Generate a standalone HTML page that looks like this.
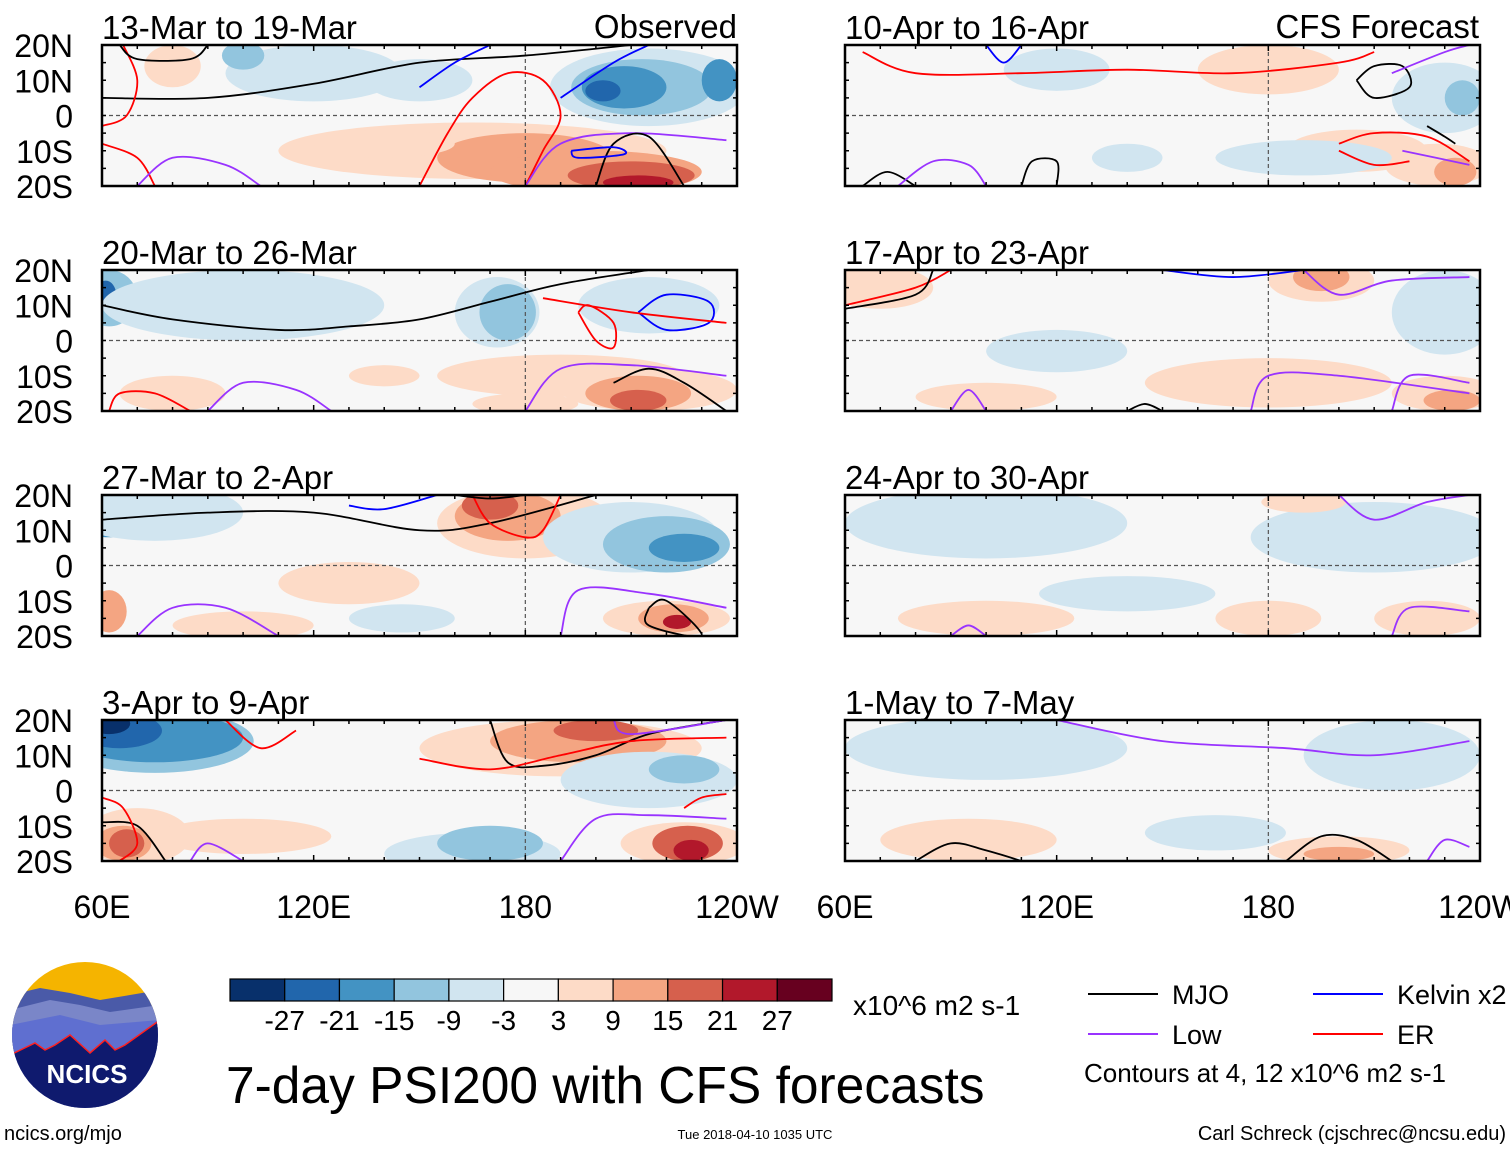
<!DOCTYPE html>
<html><head><meta charset="utf-8"><style>
body{margin:0;background:#fff;}
svg{display:block;font-family:"Liberation Sans",sans-serif;}
</style></head><body>
<svg id="s" width="1510" height="1149" viewBox="0 0 1510 1149"></svg>
<script>
const palette=['#08306b','#2166ac','#4393c3','#92c5de','#d1e5f0','#f7f7f7','#fddbc7','#f4a582','#d6604d','#b2182b','#67001f'];
const barLabels=['-27','-21','-15','-9','-3','3','9','15','21','27'];
const titles=['13-Mar to 19-Mar','20-Mar to 26-Mar','27-Mar to 2-Apr','3-Apr to 9-Apr','10-Apr to 16-Apr','17-Apr to 23-Apr','24-Apr to 30-Apr','1-May to 7-May'];
const latTicks=[20,10,0,-10,-20];
const latLabels=['20N','10N','0','10S','20S'];
const lonTicks=[60,120,180,240];
const lonLabels=['60E','120E','180','120W'];
// blobs: [lon, lat, rxDeg, ryDeg, value]
const blobs0=[[120,12,25,8,-3],[100,17,6,4,-9],[215,8,28,11,-3],[213,8,20,8,-9],[208,8,12,6,-15],[202,7,5,3,-21],[235,10,5,6,-15],[80,14,8,6,3],[165,-10,55,8,3],[180,-12,25,7,9],[200,-16,30,6,9],[210,-17,18,4,15],[212,-19,10,2,21],[140,-8,20,4,3],[150,10,15,6,-3]];
const blobs1=[[62,12,8,8,-9],[61,13,3,4,-21],[100,10,40,10,-3],[172,8,12,10,-3],[175,8,8,8,-9],[215,10,20,8,-3],[80,-15,15,5,3],[190,-10,35,6,3],[215,-14,25,6,3],[212,-15,15,5,9],[212,-17,8,3,15],[180,-18,15,3,3],[140,-10,10,3,3]];
const blobs2=[[62,15,12,7,-15],[75,15,25,8,-3],[180,12,25,10,3],[175,14,15,7,9],[170,17,8,4,15],[210,8,25,10,-3],[220,6,18,8,-9],[225,5,10,4,-15],[130,-5,20,6,3],[62,-13,5,6,9],[100,-17,20,4,3],[220,-15,18,5,3],[222,-15,10,4,9],[223,-16,4,2,21],[145,-15,15,4,-3]];
const blobs3=[[75,14,28,9,-9],[75,15,25,7,-15],[65,17,12,5,-21],[62,19,6,3,-27],[190,12,40,8,3],[195,14,25,6,9],[200,17,12,3,15],[215,3,25,8,-3],[225,6,10,4,-9],[70,-13,15,8,3],[66,-15,8,5,9],[67,-15,5,4,15],[100,-13,25,5,3],[165,-18,25,6,-3],[170,-15,15,5,-9],[225,-15,18,6,3],[226,-15,10,5,15],[227,-17,5,3,21]];
const blobs4=[[120,13,15,6,-3],[180,13,20,7,3],[230,5,15,10,-3],[235,5,5,5,-9],[205,-10,20,6,3],[228,-14,15,6,3],[233,-16,6,4,9],[190,-12,25,5,-3],[140,-12,10,4,-3]];
const blobs5=[[70,15,15,6,3],[195,17,15,6,3],[195,18,8,4,9],[230,8,15,12,-3],[180,-12,35,7,3],[100,-16,20,4,3],[230,-15,15,5,3],[232,-17,8,3,9],[120,-3,20,6,-3]];
const blobs6=[[100,12,40,10,-3],[210,8,35,10,-3],[100,-15,25,5,3],[180,-15,15,5,3],[140,-8,25,5,-3],[190,18,12,3,3],[225,-15,15,5,3]];
const blobs7=[[100,12,40,9,-3],[215,10,25,10,-3],[95,-14,25,6,3],[200,-17,20,4,3],[200,-18,10,2,9],[165,-12,20,5,-3]];
// lines: [colorCode, [[lon,lat],...]]
const lines0=[['k',[[60,5],[90,5],[120,9],[150,15],[180,17],[210,20]]],['r',[[66,20],[70,10],[67,0],[60,-3]]],['r',[[60,-8],[70,-12],[75,-20]]],['r',[[150,-20],[158,-5],[165,5],[175,12],[185,10],[190,0],[185,-10],[180,-20]]],['b',[[150,8],[160,15],[170,20]]],['b',[[190,5],[205,15],[215,20]]],['p',[[180,-20],[190,-8],[210,-5],[237,-7]]],['p',[[70,-20],[80,-12],[95,-14],[105,-20]]],['k',[[200,-20],[205,-8],[215,-6],[225,-20]]],['b',[[193,-10],[205,-9],[208,-11],[195,-12],[193,-10]]],['k',[[65,20],[70,16],[85,16],[90,20]]]];
const lines1=[['k',[[60,10],[80,6],[110,3],[130,4],[150,6],[170,11],[190,16],[215,20]]],['b',[[212,8],[220,3],[232,5],[232,11],[220,13],[212,8]]],['r',[[195,8],[200,0],[205,-2],[205,5],[198,10],[195,8]]],['r',[[185,12],[210,8],[237,5]]],['p',[[180,-20],[190,-8],[210,-7],[237,-10]]],['k',[[205,-12],[215,-8],[225,-12],[237,-20]]],['p',[[90,-20],[100,-12],[115,-14],[125,-20]]],['r',[[62,-20],[65,-15],[75,-15],[85,-20]]]];
const lines2=[['k',[[60,13],[90,15],[120,15],[150,10],[170,12],[200,20]]],['b',[[130,17],[140,16],[155,20]]],['r',[[165,20],[170,12],[180,8],[185,10],[190,20]]],['p',[[70,-20],[80,-12],[95,-12],[110,-20]]],['p',[[190,-20],[195,-7],[215,-8],[237,-12]]],['k',[[215,-12],[220,-10],[230,-20],[215,-17],[215,-12]]],['k',[[160,20],[170,19],[180,20]]]];
const lines3=[['k',[[170,20],[175,8],[185,7],[200,10],[215,16],[237,20]]],['r',[[150,9],[170,6],[190,10],[210,14],[237,15]]],['p',[[205,20],[210,16],[237,20]]],['r',[[225,-5],[230,-2],[237,-1]]],['p',[[190,-20],[200,-8],[215,-7],[237,-8]]],['k',[[60,-9],[70,-10],[78,-20]]],['p',[[85,-20],[90,-15],[100,-20]]],['r',[[60,-2],[66,-5],[70,-15],[65,-20]]],['r',[[95,20],[105,12],[115,17]]]];
const lines4=[['r',[[65,18],[80,12],[110,12],[140,13],[170,12],[200,15],[210,18]]],['k',[[205,10],[210,5],[220,8],[218,14],[210,14],[205,10]]],['p',[[215,12],[230,18],[237,20]]],['r',[[200,-8],[210,-5],[225,-6],[237,-13]]],['r',[[200,-10],[210,-14],[220,-13]]],['k',[[65,-20],[72,-16],[80,-20]]],['p',[[75,-20],[85,-13],[95,-14],[100,-20]]],['k',[[110,-20],[113,-13],[120,-13],[120,-20]]],['k',[[225,-3],[230,-6],[233,-8]]],['p',[[218,-10],[237,-14]]],['b',[[100,20],[105,15],[110,20]]]];
const lines5=[['r',[[60,10],[80,15],[90,20]]],['k',[[60,9],[80,13],[85,20]]],['b',[[150,20],[170,18],[190,20]]],['p',[[190,20],[200,13],[215,17],[237,18]]],['p',[[175,-20],[180,-10],[200,-10],[237,-15]]],['p',[[90,-20],[95,-14],[100,-20]]],['p',[[215,-20],[220,-10],[237,-12]]],['k',[[140,-20],[145,-18],[150,-20]]]];
const lines6=[['p',[[200,20],[210,13],[225,18],[237,20]]],['p',[[90,-20],[95,-17],[100,-20]]],['p',[[215,-20],[220,-12],[237,-13]]]];
const lines7=[['p',[[120,20],[150,14],[185,12],[210,10],[237,14]]],['k',[[80,-20],[90,-15],[100,-17],[110,-20]]],['k',[[185,-20],[195,-13],[205,-14],[215,-20]]],['p',[[225,-20],[230,-14],[237,-16]]]];
const allBlobs=[blobs0,blobs1,blobs2,blobs3,blobs4,blobs5,blobs6,blobs7];
const allLines=[lines0,lines1,lines2,lines3,lines4,lines5,lines6,lines7];

const S=document.getElementById('s');const NS='http://www.w3.org/2000/svg';
function mk(t,a,p){const e=document.createElementNS(NS,t);for(const k in a)e.setAttribute(k,a[k]);(p||S).appendChild(e);return e;}
function txt(x,y,s,sz,anchor,p){const e=mk('text',{x:x,y:y,'font-size':sz,'text-anchor':anchor||'start',fill:'#000'},p);e.textContent=s;return e;}
const colMap={k:'#000',b:'#0000ff',p:'#9933ff',r:'#ff0000'};
function colorFor(v){const m={'-27':0,'-21':1,'-15':2,'-9':3,'-3':4,'3':6,'9':7,'15':8,'21':9,'27':10};return palette[m[String(v)]];}
const PW=635,PH=141,tops=[45,270,495,720],lefts=[102,845];
function smooth(pts){let d='M'+pts[0][0]+','+pts[0][1];for(let i=0;i<pts.length-1;i++){const p0=pts[Math.max(0,i-1)],p1=pts[i],p2=pts[i+1],p3=pts[Math.min(pts.length-1,i+2)];d+=' C'+(p1[0]+(p2[0]-p0[0])/6)+','+(p1[1]+(p2[1]-p0[1])/6)+' '+(p2[0]-(p3[0]-p1[0])/6)+','+(p2[1]-(p3[1]-p1[1])/6)+' '+p2[0]+','+p2[1];}return d;}
const defs=mk('defs',{});
for(let i=0;i<8;i++){
  const col=i<4?0:1,row=i%4,x0=lefts[col],y0=tops[row];
  const X=lon=>x0+(lon-60)/180*PW, Y=lat=>y0+(20-lat)/40*PH;
  const cp=mk('clipPath',{id:'c'+i},defs);mk('rect',{x:x0,y:y0,width:PW,height:PH},cp);
  const g=mk('g',{'clip-path':'url(#c'+i+')'});
  
  
  mk('rect',{x:x0,y:y0,width:PW,height:PH,fill:'#f7f7f7'},g);
  allBlobs[i].forEach(b=>{const e=mk('ellipse',{cx:X(b[0]),cy:Y(b[1]),rx:b[2]/180*PW,ry:b[3]/40*PH,fill:colorFor(b[4])},g);
    
    });
  mk('line',{x1:x0,x2:x0+PW,y1:Y(0),y2:Y(0),stroke:'#555','stroke-dasharray':'4,3','stroke-width':1.2},g);
  mk('line',{x1:X(180),x2:X(180),y1:y0,y2:y0+PH,stroke:'#555','stroke-dasharray':'4,3','stroke-width':1.2},g);
  allLines[i].forEach(l=>{const e=mk('path',{d:smooth(l[1].map(p=>[X(p[0]),Y(p[1])])),fill:'none',stroke:colMap[l[0]],'stroke-width':1.8},g);
    
    });
  mk('rect',{x:x0,y:y0,width:PW,height:PH,fill:'none',stroke:'#000','stroke-width':2.5});
  for(let lon=60;lon<=240;lon+=10){const len=lon%60==0?6:4;
    mk('line',{x1:X(lon),x2:X(lon),y1:y0,y2:y0+len,stroke:'#000','stroke-width':1.5});
    mk('line',{x1:X(lon),x2:X(lon),y1:y0+PH,y2:y0+PH-len,stroke:'#000','stroke-width':1.5});}
  for(let lat=-20;lat<=20;lat+=5){mk('line',{x1:x0,x2:x0+4,y1:Y(lat),y2:Y(lat),stroke:'#000','stroke-width':1.5});mk('line',{x1:x0+PW,x2:x0+PW-4,y1:Y(lat),y2:Y(lat),stroke:'#000','stroke-width':1.5});}
  const t=txt(x0,y0-6,titles[i],33);
  if(col==0){latTicks.forEach((lat,j)=>{const e=txt(73,Y(lat)+12,latLabels[j],32,'end');});}
  if(row==3){lonTicks.forEach((lon,j)=>{const e=txt(X(lon),918,lonLabels[j],32,'middle');});}
}
txt(737,38,'Observed',33,'end');
txt(1479,38,'CFS Forecast',33,'end');
// colorbar
const cb=mk('g',{});
const bw=602/palette.length;
palette.forEach((c,i)=>mk('rect',{x:230+i*bw,y:979,width:bw,height:22,fill:c,stroke:'#000','stroke-width':1.2},cb));
barLabels.forEach((l,i)=>txt(230+(i+1)*bw,1030,l,28,'middle',cb));
txt(853,1015,'x10^6 m2 s-1',28);
const tt=txt(226,1103,'7-day PSI200 with CFS forecasts',51.5);
// legend
const lg=mk('g',{});
[[1088,994,'#000','MJO'],[1313,994,'#0000ff','Kelvin x2'],[1088,1034,'#9933ff','Low'],[1313,1034,'#ff0000','ER']].forEach(a=>{mk('line',{x1:a[0],x2:a[0]+70,y1:a[1],y2:a[1],stroke:a[2],'stroke-width':2},lg);txt(a[0]+84,a[1]+10,a[3],27,'start',lg);});
txt(1084,1082,'Contours at 4, 12 x10^6 m2 s-1',26,'start',lg);
txt(4,1140,'ncics.org/mjo',20);
txt(755,1139,'Tue 2018-04-10 1035 UTC',13,'middle');
txt(1506,1140,'Carl Schreck (cjschrec@ncsu.edu)',20,'end');
// logo
const lo=mk('g',{});
const lc=mk('clipPath',{id:'logoc'},defs);mk('circle',{cx:85,cy:1035,r:73},lc);
const lg2=mk('g',{'clip-path':'url(#logoc)'},lo);
mk('rect',{x:10,y:960,width:150,height:150,fill:'#f5b400'},lg2);
mk('path',{d:'M10,995 L40,988 L70,993 L100,1000 L130,995 L160,990 L160,1110 L10,1110Z',fill:'#4a5aa8'},lg2);
mk('path',{d:'M10,1010 L50,1000 L80,1005 L110,1012 L160,1005 L160,1110 L10,1110Z',fill:'#7a86c8'},lg2);
mk('path',{d:'M10,1025 L60,1015 L100,1025 L160,1020 L160,1110 L10,1110Z',fill:'#5f6fd0'},lg2);
mk('path',{d:'M10,1055 L35,1043 L45,1050 L55,1045 L70,1035 L90,1053 L105,1040 L115,1050 L125,1045 L160,1020 L160,1110 L10,1110Z',fill:'#0f1a6e',stroke:'#ff2020','stroke-width':1.5},lg2);
mk('text',{x:87,y:1083,'font-size':26,'font-weight':'bold','text-anchor':'middle',fill:'#fff'},lo).textContent='NCICS';
</script>
</body></html>
